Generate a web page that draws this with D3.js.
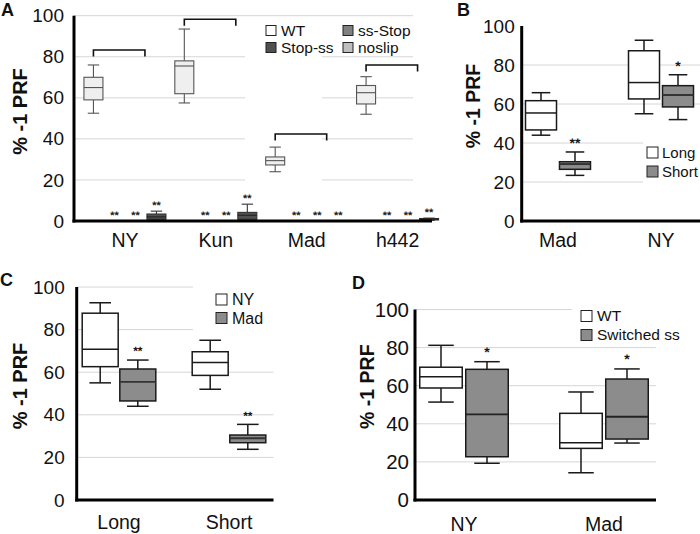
<!DOCTYPE html>
<html><head><meta charset="utf-8">
<script src="https://cdn.jsdelivr.net/npm/d3@7"></script>
<style>
body{margin:0;background:#fff}
svg{display:block}
text{font-family:"Liberation Sans",Arial,Helvetica,sans-serif;fill:#111}
.star{font-weight:bold;fill:#1a1a1a;text-rendering:geometricPrecision;-webkit-font-smoothing:antialiased}
</style>
</head><body>
<svg id="chart" width="700" height="534"></svg>
<script>
// ================= DATA =================
// Each box: [min, q1, median, q3, max]  (% -1 PRF)
const yTicks = [0, 20, 40, 60, 80, 100];

// Panel A
const catsA = ["NY", "Kun", "Mad", "h442"];
const seriesA = ["WT", "ss-Stop", "noslip", "Stop-ss"];
const wtA     = [[52.5, 59, 65, 70, 76], [57.5, 62, 75.5, 78, 93.5], [24, 27.3, 29.4, 31.2, 36], [52, 57, 62.5, 66, 70.3]];
const ssStopA = [[0, 0, 0, 0, 0], [0, 0, 0, 0, 0], [0, 0, 0, 0, 0], [0, 0, 0, 0, 0]];
const noslipA = [[0, 0, 0, 0, 0], [0, 0, 0, 0, 0], [0, 0, 0, 0, 0], [0, 0, 0, 0, 0]];
const stopSsA = [[0.3, 0.8, 2, 3.4, 4.8], [0.3, 0.8, 2.8, 4.2, 8.2], [0, 0, 0, 0, 0], [0.3, 0.5, 0.9, 1.2, 1.4]];
const starsA  = [["", "**", "**", "**"], ["", "**", "**", "**"], ["", "**", "**", "**"], ["", "**", "**", "**"]];
const bracketA = [83.3, 98.3, 42.4, 76];
const legendA = ["WT", "Stop-ss", "ss-Stop", "noslip"];

// Panel B
const catsB = ["Mad", "NY"];
const seriesB = ["Long", "Short"];
const longB  = [[44, 46.7, 55.4, 61.7, 65.8], [55, 62.6, 71, 87.3, 92.7]];
const shortB = [[23.4, 26.5, 29.2, 30.4, 35.4], [52, 58.5, 64.6, 69.4, 75]];
const starsB = [["", "**"], ["", "*"]];

// Panel C
const catsC = ["Long", "Short"];
const seriesC = ["NY", "Mad"];
const nyC  = [[55, 62.6, 70.8, 87.7, 92.6], [52, 58.5, 64.6, 69.6, 75]];
const madC = [[44, 46.5, 55.5, 61.5, 65.7], [23.8, 26.9, 29, 30.5, 35.5]];
const starsC = [["", "**"], ["", "**"]];

// Panel D
const catsD = ["NY", "Mad"];
const seriesD = ["WT", "Switched ss"];
const wtD       = [[51.4, 58.8, 64.7, 69.7, 81.2], [14.3, 27.1, 30, 45.5, 56.7]];
const switchedD = [[19.3, 22.7, 45, 68.6, 72.6], [29.9, 32, 43.7, 63.5, 68.8]];
const starsD = [["", "*"], ["", "*"]];

const yTitle = "% -1 PRF";

// ================= DRAW =================
const svg = d3.select("#chart");
const FONT = '"Liberation Sans",Arial,sans-serif';

function drawPanel(p) {
  const g = svg.append("g");
  const y = d3.scaleLinear().domain([0, 100]).range([p.y0, p.y100]);
  const x0 = d3.scaleBand().domain(p.cats).range(p.band);
  const bw0 = x0.bandwidth();
  const x1 = d3.scaleBand().domain(p.series)
    .range([bw0 / 2 - p.inner / 2, bw0 / 2 + p.inner / 2]).paddingInner(p.pad);
  const w = x1.bandwidth();

  // gridlines
  g.append("g").selectAll("line").data(p.grid).join("line")
    .attr("x1", p.axisX).attr("x2", p.gridEnd)
    .attr("y1", d => y(d)).attr("y2", d => y(d))
    .attr("stroke", "#d6d6d6").attr("stroke-width", 1);
  // white masks (legend backgrounds etc.)
  g.append("g").selectAll("rect").data(p.masks).join("rect")
    .attr("x", d => d[0]).attr("y", d => d[1]).attr("width", d => d[2]).attr("height", d => d[3])
    .attr("fill", "#fff");

  // brackets
  if (p.brackets) {
    const bg = g.append("g").attr("fill", "none").attr("stroke", "#111").attr("stroke-width", 1.6);
    p.cats.forEach((c, ci) => {
      const xa = x0(c) + x1(p.series[0]) + w / 2;
      const xb = x0(c) + x1(p.series[2]) + w;
      const yb = y(p.brackets[ci]);
      bg.append("path").attr("d", `M${xa},${yb + 6.5}V${yb}H${xb}V${yb + 6.5}`);
    });
  }

  // boxes
  p.series.forEach((s, si) => {
    const vals = p.values[si];
    const sg = g.append("g");
    p.cats.forEach((c, ci) => {
      const v = vals[ci];
      const cx = x0(c) + x1(s) + w / 2;
      const capW = w * 0.3;
      const st = p.stroke[si];
      sg.append("line").attr("x1", cx).attr("x2", cx).attr("y1", y(v[4])).attr("y2", y(v[3]))
        .attr("stroke", st).attr("stroke-width", p.sw);
      sg.append("line").attr("x1", cx).attr("x2", cx).attr("y1", y(v[1])).attr("y2", y(v[0]))
        .attr("stroke", st).attr("stroke-width", p.sw);
      sg.append("line").attr("x1", cx - capW).attr("x2", cx + capW).attr("y1", y(v[4])).attr("y2", y(v[4]))
        .attr("stroke", st).attr("stroke-width", p.sw);
      sg.append("line").attr("x1", cx - capW).attr("x2", cx + capW).attr("y1", y(v[0])).attr("y2", y(v[0]))
        .attr("stroke", st).attr("stroke-width", p.sw);
      sg.append("rect").attr("x", cx - w / 2).attr("y", y(v[3]))
        .attr("width", w).attr("height", Math.max(0, y(v[1]) - y(v[3])))
        .attr("fill", p.fill[si]).attr("stroke", st).attr("stroke-width", p.sw);
      sg.append("line").attr("x1", cx - w / 2).attr("x2", cx + w / 2).attr("y1", y(v[2])).attr("y2", y(v[2]))
        .attr("stroke", p.medStroke[si]).attr("stroke-width", p.medW[si]);
      const star = p.stars[ci][si];
      if (star) {
        g.append("text").attr("class", "star").attr("x", cx).attr("y", y(v[4]) - p.starGap + 0.575 * p.starFs)
          .attr("text-anchor", "middle").attr("font-size", p.starFs).style("font-family", FONT).text(star);
      }
    });
  });

  // y tick labels
  const ya = g.append("g").attr("transform", `translate(${p.axisX},0)`)
    .call(d3.axisLeft(y).tickValues(yTicks).tickSize(0).tickPadding(p.tickPad).tickFormat(d3.format("d")));
  ya.select(".domain").remove();
  ya.selectAll("text").attr("font-size", p.tickFs).attr("fill", "#111").style("font-family", FONT);

  // x category labels
  const xa = g.append("g").attr("transform", `translate(0,${p.y0})`)
    .call(d3.axisBottom(x0).tickSize(0).tickPadding(p.catPad));
  xa.select(".domain").remove();
  xa.selectAll("text").attr("font-size", p.catFs).attr("fill", "#111").style("font-family", FONT);

  // axis lines
  g.append("line").attr("x1", p.axisX).attr("x2", p.axisX).attr("y1", y(100)).attr("y2", y(0) + 1.5)
    .attr("stroke", "#000").attr("stroke-width", 3);
  g.append("line").attr("x1", p.axisX - 1.5).attr("x2", p.xEnd).attr("y1", y(0)).attr("y2", y(0))
    .attr("stroke", "#000").attr("stroke-width", 3);

  // y title
  g.append("text").attr("transform", `translate(${p.titleX},${p.titleY}) rotate(-90)`)
    .attr("text-anchor", "middle").attr("font-weight", "bold").attr("font-size", p.titleFs).text(yTitle);

  // panel letter
  g.append("text").attr("x", p.letter[1]).attr("y", p.letter[2])
    .attr("font-weight", "bold").attr("font-size", 18).text(p.letter[0]);

  // legend
  const lg = g.append("g");
  p.legend.forEach(d => {
    lg.append("rect").attr("x", d.x).attr("y", d.y - p.legSq / 2).attr("width", p.legSq).attr("height", p.legSq)
      .attr("fill", d.fill).attr("stroke", "#222").attr("stroke-width", 1);
    lg.append("text").attr("x", d.x + p.legSq + p.legGap).attr("y", d.y).attr("dy", "0.35em")
      .attr("font-size", p.legFs).text(d.label);
  });
}

// ---- Panel A ----
const fillA = ["#efefef", "#808080", "#bfbfbf", "#505050"];
drawPanel({
  cats: catsA, series: seriesA, values: [wtA, ssStopA, noslipA, stopSsA], stars: starsA,
  brackets: bracketA,
  y0: 221, y100: 15.7, band: [79.5, 443], inner: 82, pad: 0.095,
  axisX: 74, xEnd: 432, gridEnd: 413, grid: [20, 40, 60, 80, 100],
  masks: [[245, 22, 77, 190]],
  fill: fillA, stroke: ["#555", "#444", "#555", "#333"], sw: 1.1,
  medStroke: ["#555", "#333", "#555", "#222"], medW: [1.1, 1.1, 1.1, 1.1],
  starFs: 11, starGap: 8,
  tickPad: 10, tickFs: 19, catPad: 12, catFs: 19.5,
  titleX: 26.5, titleY: 111.5, titleFs: 20,
  letter: ["A", 1, 16],
  legSq: 10, legFs: 15.5, legGap: 5,
  legend: [
    {label: legendA[0], x: 266, y: 30.5, fill: "#fff"},
    {label: legendA[1], x: 266, y: 47.5, fill: fillA[3]},
    {label: legendA[2], x: 343, y: 30.5, fill: fillA[1]},
    {label: legendA[3], x: 343, y: 47.5, fill: fillA[2]}
  ]
});

// ---- Panel B ----
drawPanel({
  cats: catsB, series: seriesB, values: [longB, shortB], stars: starsB,
  y0: 221, y100: 26, band: [506.5, 712.5], inner: 65, pad: 0.088,
  axisX: 521.7, xEnd: 700, gridEnd: 700, grid: [20, 40, 60, 80],
  masks: [[643, 140, 57, 46]],
  fill: ["#fff", "#8c8c8c"], stroke: ["#1a1a1a", "#1a1a1a"], sw: 1.5,
  medStroke: ["#1a1a1a", "#333"], medW: [1.5, 2],
  starFs: 14, starGap: 12,
  tickPad: 7, tickFs: 19, catPad: 12, catFs: 19.5,
  titleX: 480, titleY: 106, titleFs: 19.5,
  letter: ["B", 457, 16],
  legSq: 11, legFs: 15, legGap: 4,
  legend: [
    {label: seriesB[0], x: 647, y: 152.5, fill: "#fff"},
    {label: seriesB[1], x: 647, y: 171.5, fill: "#8c8c8c"}
  ]
});

// ---- Panel C ----
drawPanel({
  cats: catsC, series: seriesC, values: [nyC, madC], stars: starsC,
  y0: 500, y100: 287, band: [64, 284], inner: 73.6, pad: 0.043,
  axisX: 76.7, xEnd: 273.5, gridEnd: 273.5, grid: [20, 40, 60, 80, 100],
  masks: [[193, 282, 82, 58]],
  fill: ["#fff", "#8c8c8c"], stroke: ["#1a1a1a", "#1a1a1a"], sw: 1.5,
  medStroke: ["#1a1a1a", "#333"], medW: [1.5, 1.8],
  starFs: 12, starGap: 11.5,
  tickPad: 12, tickFs: 19, catPad: 15, catFs: 19.5,
  titleX: 26.5, titleY: 386, titleFs: 20,
  letter: ["C", 0, 286],
  legSq: 11, legFs: 16, legGap: 5,
  legend: [
    {label: seriesC[0], x: 216, y: 299.5, fill: "#fff"},
    {label: seriesC[1], x: 216, y: 318, fill: "#8c8c8c"}
  ]
});

// ---- Panel D ----
drawPanel({
  cats: catsD, series: seriesD, values: [wtD, switchedD], stars: starsD,
  y0: 500, y100: 309.5, band: [394, 674], inner: 88.5, pad: 0.076,
  axisX: 415, xEnd: 656, gridEnd: 656, grid: [20, 40, 60, 80, 100],
  masks: [[572, 303, 88, 40]],
  fill: ["#fff", "#8c8c8c"], stroke: ["#1a1a1a", "#1a1a1a"], sw: 1.5,
  medStroke: ["#1a1a1a", "#222"], medW: [1.5, 1.8],
  starFs: 14, starGap: 13,
  tickPad: 6, tickFs: 20.5, catPad: 17, catFs: 19.5,
  titleX: 374, titleY: 386.7, titleFs: 19.5,
  letter: ["D", 352, 289],
  legSq: 11, legFs: 15.5, legGap: 5,
  legend: [
    {label: seriesD[0], x: 581, y: 316, fill: "#fff"},
    {label: seriesD[1], x: 581, y: 335, fill: "#8c8c8c"}
  ]
});
</script>
</body></html>
